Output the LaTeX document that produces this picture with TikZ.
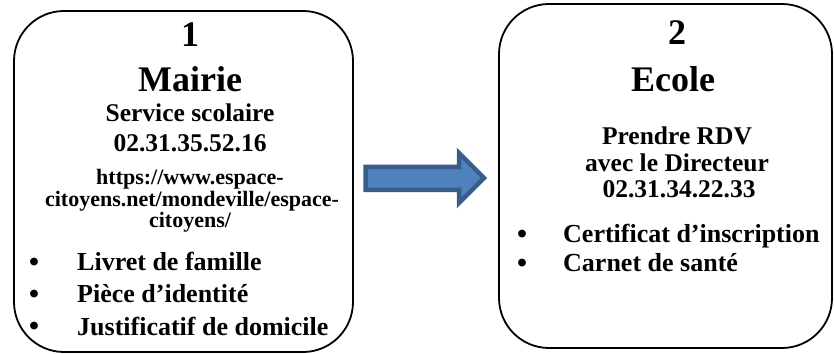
\documentclass[tikz,border=0pt]{standalone}
\usepackage{fontspec}
\setmainfont{Liberation Serif}
\definecolor{bleu}{HTML}{4F81BD}
\definecolor{bleufonce}{HTML}{385D8A}
\newcommand{\grospoint}[1]{\makebox[#1][l]{\raisebox{-1pt}{\scalebox{1.1}{\textbullet}}}}
\begin{document}
\begin{tikzpicture}[x=1pt,y=1pt,line join=round,line cap=round,
  boite/.style={draw,line width=1.8pt,rounded corners=50pt,inner sep=0pt},
  titre/.style={anchor=base,inner sep=0pt,font=\fontsize{36}{40}\selectfont\bfseries},
  moyen/.style={anchor=base,inner sep=0pt,font=\fontsize{25.5}{28}\selectfont\bfseries},
  lien/.style={anchor=base,inner sep=0pt,font=\fontsize{22}{24}\selectfont\bfseries},
  liste/.style={anchor=base west,inner sep=0pt,font=\fontsize{26}{28}\selectfont\bfseries}]
\useasboundingbox (0,0) rectangle (834,353);
\node[boite,minimum width=339pt,minimum height=341pt] (mairie) at (183.5,171.5) {};
\node[boite,minimum width=333pt,minimum height=344pt] (ecole) at (665.5,177) {};
\node[titre] (un) at (190,306) {1};
\node[titre] (nommairie) at (190,261) {Mairie};
\node[moyen] (service) at (190,231) {Service scolaire};
\node[moyen] (telmairie) at (190,201) {02.31.35.52.16};
\node[lien] (lienA) at (190,168) {https://www.espace-};
\node[lien] (lienB) at (192,146) {citoyens.net/mondeville/espace-};
\node[lien] (lienC) at (190,125) {citoyens/};
\node[liste] (livret) at (29,82) {\grospoint{48pt}Livret de famille};
\node[liste] (piece) at (29,50) {\grospoint{48pt}Pièce d’identité};
\node[liste] (justif) at (29,18) {\grospoint{48pt}Justificatif de domicile};
\node[titre] (deux) at (677,308) {2};
\node[titre] (nomecole) at (673,261) {Ecole};
\node[moyen] (rdv) at (677,208) {Prendre RDV};
\node[moyen] (directeur) at (677,181) {avec le Directeur};
\node[moyen] (telecole) at (679,155) {02.31.34.22.33};
\node[liste] (certif) at (517,110) {\grospoint{46pt}Certificat d’inscription};
\node[liste] (carnet) at (517,81) {\grospoint{46pt}Carnet de santé};
\draw[fill=bleu,draw=bleufonce,line width=4.5pt,line join=miter]
(365.5,163)--(365.5,186)--(459,186)--(459,200)--(484,175)--(459,150)--(459,163)--cycle;
\end{tikzpicture}
\end{document}
